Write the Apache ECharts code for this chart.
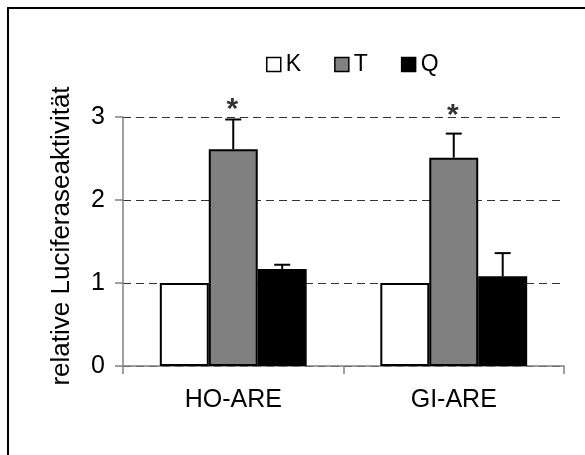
<!DOCTYPE html>
<html>
<head>
<meta charset="utf-8">
<script src="https://cdn.jsdelivr.net/npm/echarts@6/dist/echarts.min.js"></script>
<style>
  html, body { margin: 0; padding: 0; background: #fff; }
  #main { width: 585px; height: 455px; }
</style>
</head>
<body>
<div id="main"></div>
<script>
// Daten
var categories = ['HO-ARE', 'GI-ARE'];
var kValues = [1, 1];
var tValues = [2.61, 2.51];
var qValues = [1.17, 1.08];
var tErr = [0.36, 0.29];
var qErr = [0.05, 0.28];
var sigLevel = [3.16, 3.09];   // Lage der Sternchen
var sigMarks = ['*', '*'];

var FONT = "'Liberation Sans', Arial, sans-serif";
var BAR_RATIO = 0.222;

var myChart = echarts.init(document.getElementById('main'));

// Fehlerbalken: [Kategorie, Wert, Fehler, Position (0 = T, 1 = Q)]
var errData = [];
categories.forEach(function (c, i) {
    errData.push([i, tValues[i], tErr[i], 0]);
    errData.push([i, qValues[i], qErr[i], 1]);
});

var option = {
    animation: false,
    backgroundColor: '#fff',
    textStyle: { fontFamily: FONT },
    grid: { left: 123, right: 21, top: 117, bottom: 89 },
    legend: {
        data: ['K', 'T', 'Q'],
        left: 261,
        top: 48,
        icon: 'rect',
        itemWidth: 14,
        itemHeight: 14,
        itemGap: 33,
        itemStyle: { borderWidth: 1.5, borderColor: '#000' },
        textStyle: { fontFamily: FONT, fontSize: 23, color: '#000' }
    },
    xAxis: {
        type: 'category',
        data: categories,
        axisLine: { lineStyle: { color: '#808080', width: 1.5 } },
        axisTick: { show: true, length: 8, lineStyle: { color: '#808080', width: 1.5 } },
        axisLabel: { fontSize: 25, color: '#000', margin: 22, fontFamily: FONT }
    },
    yAxis: {
        type: 'value',
        min: 0,
        max: 3,
        interval: 1,
        axisLine: { show: true, lineStyle: { color: '#808080', width: 1.5 } },
        axisTick: { show: true, length: 8, lineStyle: { color: '#808080', width: 1.5 } },
        axisLabel: { fontSize: 25, color: '#000', margin: 18, fontFamily: FONT },
        splitLine: {
            show: true,
            lineStyle: { color: '#333', width: 1, type: [8, 5] }
        }
    },
    graphic: [
        {
            type: 'polyline',
            shape: { points: [[8, 455], [8, 8], [585, 8]] },
            style: { stroke: '#000', lineWidth: 2, fill: null }
        },
        {
            type: 'text',
            x: 62,
            y: 236,
            rotation: Math.PI / 2,
            style: {
                text: 'relative Luciferaseaktivität',
                font: '26px ' + FONT,
                fill: '#000',
                textAlign: 'center',
                textVerticalAlign: 'middle'
            }
        }
    ],
    series: [
        {
            name: 'K',
            type: 'bar',
            data: kValues,
            barWidth: (BAR_RATIO * 100) + '%',
            barGap: '0%',
            itemStyle: { color: '#fff', borderColor: '#000', borderWidth: 2 }
        },
        {
            name: 'T',
            type: 'bar',
            data: tValues,
            barWidth: (BAR_RATIO * 100) + '%',
            barGap: '0%',
            itemStyle: { color: '#808080', borderColor: '#000', borderWidth: 2 }
        },
        {
            name: 'Q',
            type: 'bar',
            data: qValues,
            barWidth: (BAR_RATIO * 100) + '%',
            barGap: '0%',
            itemStyle: { color: '#000', borderColor: '#000', borderWidth: 2 }
        },
        {
            name: 'Fehler',
            type: 'custom',
            data: errData,
            encode: { x: 0, y: 1 },
            z: 3,
            clip: false,
            renderItem: function (params, api) {
                var base = api.coord([api.value(0), api.value(1)]);
                var top = api.coord([api.value(0), api.value(1) + api.value(2)]);
                var bw = api.size([1, 0])[0] * BAR_RATIO;
                var x = base[0] + api.value(3) * bw;
                var st = { stroke: '#000', lineWidth: 2 };
                return {
                    type: 'group',
                    children: [
                        { type: 'line', shape: { x1: x, y1: base[1], x2: x, y2: top[1] }, style: st },
                        { type: 'line', shape: { x1: x - 8, y1: top[1], x2: x + 8, y2: top[1] }, style: st }
                    ]
                };
            }
        },
        {
            name: 'Signifikanz',
            type: 'scatter',
            symbolSize: 2,
            clip: false,
            itemStyle: { color: 'rgba(0,0,0,0)' },
            data: sigLevel.map(function (v, i) { return [i, v]; }),
            label: {
                show: true,
                position: 'inside',
                offset: [-1, 6],
                formatter: function (p) { return sigMarks[p.dataIndex]; },
                fontSize: 30,
                fontWeight: 'bold',
                color: '#000',
                fontFamily: FONT
            }
        }
    ]
};

myChart.setOption(option);
</script>
</body>
</html>
